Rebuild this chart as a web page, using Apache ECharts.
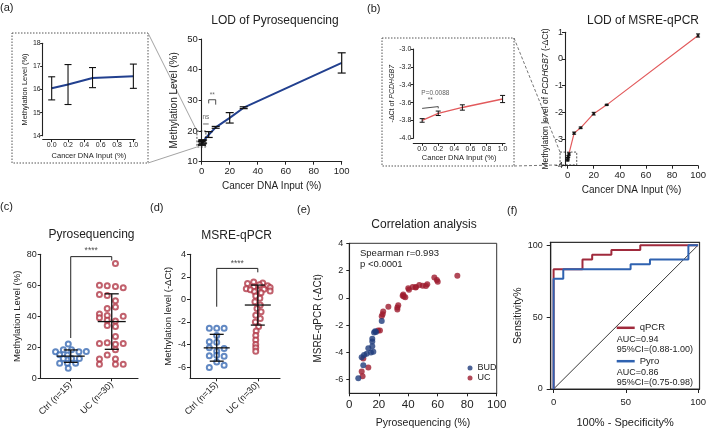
<!DOCTYPE html>
<html>
<head>
<meta charset="utf-8">
<script src="https://cdn.jsdelivr.net/npm/echarts@6/dist/echarts.min.js"></script>
<style>
html,body{margin:0;padding:0;background:#fff;}
#fig{width:709px;height:432px;}
</style>
</head>
<body>
<div id="fig"></div>
<script>
// ---------- (a)/(b) limit of detection ----------
var lodX = [0, 0.2, 0.5, 1, 5, 10, 20, 30, 100];
var pyroMean = [16.05, 16.22, 16.5, 16.57, 18.8, 21.2, 24.3, 27.6, 42.2];
var pyroLow  = [15.55, 15.35, 16.08, 16.05, 17.9, 20.9, 22.6, 27.3, 38.9];
var pyroHigh = [16.55, 17.08, 16.95, 17.1, 19.8, 21.5, 26.0, 27.9, 45.5];
var qpcrMean = [-3.80, -3.72, -3.655, -3.56, -2.78, -2.58, -2.05, -1.72, 0.88];
var qpcrLow  = [-3.82, -3.745, -3.685, -3.60, -2.82, -2.61, -2.10, -1.74, 0.82];
var qpcrHigh = [-3.78, -3.695, -3.625, -3.52, -2.74, -2.55, -2.00, -1.70, 0.94];
var insetN = 4; // inputs <= 1% shown in the insets
var insetTicks = [0, 0.2, 0.4, 0.6, 0.8, 1.0];

// significance marks
var aNsX = [1, 5], aNsY = [22.3, 22.3];
var aStarX = [5, 5, 10, 10], aStarY = [29, 30.2, 30.2, 28.6];
var bStarX = [0, 0, 0.2, 0.2], bStarY = [-3.665, -3.645, -3.645, -3.665];

// ---------- (c) pyrosequencing groups ----------
var groups = ['Ctrl (n=15)', 'UC (n=30)'];
var pyroCtrl = [22.2, 18.5, 18.5, 17.2, 17.2, 17.3, 15.2, 15.0, 12.8, 12.8, 12.8, 9.7, 9.7, 9.7, 6.5];
var pyroCtrlJit = [-0.06, -0.18, 0.02, -0.37, 0.2, 0.38, -0.27, -0.08, -0.18, 0.02, 0.21, -0.27, -0.08, 0.12, -0.06];
var pyroUc = [74, 60, 59.7, 59.3, 58.5, 54, 53.5, 50, 46, 45, 41.5, 39, 40.5, 37.5, 37, 40, 34, 33.5, 27, 22.5, 23, 22, 22.5, 18.5, 15, 12.5, 12.5, 9, 9, 9];
var pyroUcJit = [0.09, -0.3, -0.11, 0.09, 0.28, -0.3, -0.11, 0.09, 0.09, -0.11, -0.3, -0.3, -0.11, -0.11, 0.09, 0.28, -0.11, 0.09, 0.09, -0.3, -0.11, 0.09, 0.28, 0.09, -0.11, -0.3, 0.09, -0.3, 0.09, 0.28];
var pyroGrpMean = [14.3, 36.6], pyroGrpLow = [10.3, 18.7], pyroGrpHigh = [18.3, 54.5];
var pyroSigX = [1, 1, 2, 2], pyroSigY = [26, 78.5, 78.5, 76];

// ---------- (d) MSRE-qPCR groups ----------
var msreCtrl = [-2.55, -2.55, -2.55, -3.2, -3.8, -3.75, -4.3, -4.35, -4.6, -5.0, -4.95, -5.05, -6.05, -5.55, -5.85];
var msreCtrlJit = [-0.18, 0, 0.18, 0, 0, -0.18, -0.18, 0.18, 0, -0.18, 0, 0.18, -0.18, 0, 0.18];
var msreUc = [1.55, 1.45, 1.4, 1.3, 1.2, 1.1, 1.05, 0.95, 0.9, 0.85, 0.8, 0.75, 0.7, 0.6, 0.3, 0.1, -0.2, -0.5, -0.8, -1.1, -1.4, -1.7, -2.0, -2.4, -2.8, -3.2, -3.6, -4.0, -4.3, -4.6];
var msreUcJit = [-0.1, 0.12, -0.25, 0.04, 0.24, -0.1, 0.3, -0.28, 0.15, -0.18, 0, 0.3, -0.08, 0.08, -0.05, 0.05, -0.07, 0.06, -0.02, 0.08, -0.05, 0.06, -0.06, 0.02, -0.04, -0.05, -0.05, -0.05, -0.05, -0.05];
var msreGrpMean = [-4.3, -0.5], msreGrpLow = [-5.48, -2.28], msreGrpHigh = [-3.1, 1.27];
var msreSigX = [1, 1, 2, 2], msreSigY = [-0.65, 2.75, 2.75, 2.4];
var deltaTicks = [-6, -4, -2, 0, 2, 4];

// ---------- (e) correlation ----------
var budPyro = [22, 18.1, 16.8, 17.5, 15.6, 15.6, 15.6, 12.9, 14.7, 16.3, 11.8, 10, 8.4, 9.5, 6.1];
var budMsre = [-1.7, -2.5, -2.55, -2.45, -3.0, -3.2, -3.55, -3.7, -4.0, -3.95, -4.1, -4.2, -4.35, -4.95, -5.9];
var ucPyro = [73.3, 57.7, 59.4, 60, 52.9, 52, 49.8, 47.5, 45.2, 43, 40, 40.5, 36.6, 36.2, 38, 33.2, 32.6, 32.6, 26.5, 23, 22.6, 22, 20.8, 19.5, 9.5, 12.9, 8.4, 9, 37, 45];
var ucMsre = [1.62, 1.5, 1.3, 1.18, 1.0, 0.86, 0.88, 0.95, 0.8, 0.8, 0.7, 0.6, 0.25, 0.15, 0.05, -0.55, -0.7, -0.85, -0.65, -1.0, -1.2, -1.35, -2.4, -2.4, -4.45, -5.1, -5.4, -5.75, 0.1, 0.75];

// ---------- (f) ROC ----------
var qpcrFpr = [0, 0, 20, 20, 26.7, 26.7, 40, 40, 60, 60, 100];
var qpcrTpr = [0, 83.3, 83.3, 90, 90, 93.3, 93.3, 96.7, 96.7, 100, 100];
var pyroFpr = [0, 0, 6.7, 6.7, 53.3, 53.3, 66.7, 66.7, 93.3, 93.3, 100];
var pyroTpr = [0, 76.7, 76.7, 83.3, 83.3, 86.7, 86.7, 90, 90, 100, 100];
var rocTicks = [0, 50, 100];
var aucText = ['AUC=0.94\n95%CI=(0.88-1.00)', 'AUC=0.86\n95%CI=(0.75-0.98)'];

var FONT = '"Liberation Sans", Arial, sans-serif';
var INK = '#222';
var NAVY = '#22408f', SALMON = '#e25a5c';
var BLUE = '#3b6cb4', RED = '#b23a48';
var DBLUE = '#1f3c7c', DRED = '#9e1c2e';
var ROCRED = '#a02a3c', ROCBLUE = '#2f62b0';

function pairs(xs, ys) {
	return xs.map(function (x, i) { return [x, ys[i]]; });
}
function jitter(center, jit, vals) {
	return vals.map(function (v, i) { return [center + jit[i], v]; });
}

function axis(g, o) {
	var a = {
		gridIndex: g, type: 'value', nameLocation: 'middle',
		axisLine: { show: true, onZero: false, lineStyle: { color: INK, width: 1.1 } },
		axisTick: { show: true, length: 3, lineStyle: { color: INK, width: 1 } },
		axisLabel: { color: INK, fontSize: 9, fontFamily: FONT, margin: 4 },
		splitLine: { show: false },
		nameTextStyle: { color: INK, fontSize: 10, fontFamily: FONT }
	};
	Object.keys(o).forEach(function (k) {
		if (o[k] && typeof o[k] === 'object' && !Array.isArray(o[k]) && a[k]) a[k] = Object.assign({}, a[k], o[k]);
		else a[k] = o[k];
	});
	return a;
}

// vertical error bar with caps, data [x, low, high]
function errBar(cap, w) {
	return function (params, api) {
		var x = api.value(0);
		var lo = api.coord([x, api.value(1)]);
		var hi = api.coord([x, api.value(2)]);
		var st = { stroke: '#111', lineWidth: w };
		return {
			type: 'group', children: [
				{ type: 'line', shape: { x1: lo[0], y1: lo[1], x2: hi[0], y2: hi[1] }, style: st },
				{ type: 'line', shape: { x1: hi[0] - cap, y1: hi[1], x2: hi[0] + cap, y2: hi[1] }, style: st },
				{ type: 'line', shape: { x1: lo[0] - cap, y1: lo[1], x2: lo[0] + cap, y2: lo[1] }, style: st }
			]
		};
	};
}
// mean line + SD bar, data [x, mean, low, high]
function meanSd(half, cap) {
	return function (params, api) {
		var x = api.value(0);
		var m = api.coord([x, api.value(1)]);
		var lo = api.coord([x, api.value(2)]);
		var hi = api.coord([x, api.value(3)]);
		var st = { stroke: '#111', lineWidth: 1.3 };
		return {
			type: 'group', children: [
				{ type: 'line', shape: { x1: m[0] - half, y1: m[1], x2: m[0] + half, y2: m[1] }, style: st },
				{ type: 'line', shape: { x1: lo[0], y1: lo[1], x2: hi[0], y2: hi[1] }, style: st },
				{ type: 'line', shape: { x1: hi[0] - cap, y1: hi[1], x2: hi[0] + cap, y2: hi[1] }, style: st },
				{ type: 'line', shape: { x1: lo[0] - cap, y1: lo[1], x2: lo[0] + cap, y2: lo[1] }, style: st }
			]
		};
	};
}
function errData(xs, lo, hi, n) {
	return xs.slice(0, n).map(function (x, i) { return [x, lo[i], hi[i]]; });
}
function grpData(mean, lo, hi) {
	return mean.map(function (m, i) { return [i + 1, m, lo[i], hi[i]]; });
}
function thinLine(idx, xs, ys, color, w) {
	return {
		type: 'line', xAxisIndex: idx, yAxisIndex: idx, data: pairs(xs, ys), symbol: 'none', clip: false,
		lineStyle: { color: color || INK, width: w || 0.9 }, silent: true, animation: false
	};
}
function notes(idx, list, size, color) {
	return {
		type: 'scatter', xAxisIndex: idx, yAxisIndex: idx, symbolSize: 1, silent: true, clip: false,
		itemStyle: { color: 'rgba(0,0,0,0)' },
		label: { show: true, position: 'inside', fontSize: size, color: color || INK, fontFamily: FONT,
			formatter: function (p) { return p.value[2]; } },
		data: list
	};
}
function fmt1(v) { return v.toFixed(1); }

var chart = echarts.init(document.getElementById('fig'));

var option = {
	animation: false,
	backgroundColor: '#fff',
	textStyle: { fontFamily: FONT },
	grid: [
		{ left: 42.7, top: 43.3, width: 92.3, height: 92.4 },   // a inset
		{ left: 201.7, top: 39, width: 140, height: 122.7 },    // a
		{ left: 413.3, top: 49, width: 91.7, height: 89.3 },    // b inset
		{ left: 565, top: 32.3, width: 136, height: 133.4 },    // b
		{ left: 40.7, top: 254.3, width: 97.3, height: 124 },   // c
		{ left: 190, top: 254.3, width: 90, height: 124 },      // d
		{ left: 349.3, top: 243.3, width: 147.4, height: 150, show: true, borderColor: '#333', borderWidth: 1 }, // e
		{ left: 550.7, top: 242.3, width: 149.3, height: 146.7, show: true, borderColor: '#333', borderWidth: 1.2 } // f
	],
	xAxis: [
		axis(0, { min: -0.11, max: 1.02, offset: 4,
			axisLabel: { fontSize: 7, margin: 2, customValues: insetTicks, formatter: fmt1 },
			axisTick: { customValues: insetTicks, length: 2.5 },
			name: 'Cancer DNA Input (%)', nameGap: 12, nameTextStyle: { fontSize: 7.5 } }),
		axis(1, { min: 0, max: 100, interval: 20, axisLabel: { fontSize: 9.5, margin: 5 },
			name: 'Cancer DNA Input (%)', nameGap: 20 }),
		axis(2, { min: -0.11, max: 1.03, offset: 5,
			axisLabel: { fontSize: 7, margin: 2, customValues: insetTicks, formatter: fmt1 },
			axisTick: { customValues: insetTicks, length: 2.5 },
			name: 'Cancer DNA Input (%)', nameGap: 11, nameTextStyle: { fontSize: 7.5 } }),
		axis(3, { min: -2, max: 100,
			axisLabel: { fontSize: 9.5, margin: 5, customValues: [0, 20, 40, 60, 80, 100] },
			axisTick: { customValues: [0, 20, 40, 60, 80, 100] },
			name: 'Cancer DNA Input (%)', nameGap: 20 }),
		axis(4, { min: 0.268, max: 2.64,
			axisLabel: { customValues: [1, 2], rotate: 45, margin: 5, formatter: function (v) { return groups[Math.round(v) - 1]; } },
			axisTick: { customValues: [1, 2] } }),
		axis(5, { min: 0.35, max: 2.54,
			axisLabel: { customValues: [1, 2], rotate: 45, margin: 5, formatter: function (v) { return groups[Math.round(v) - 1]; } },
			axisTick: { customValues: [1, 2] } }),
		axis(6, { min: 0, max: 100, interval: 20, axisLabel: { fontSize: 11.5, margin: 6 },
			name: 'Pyrosequencing (%)', nameGap: 24, nameTextStyle: { fontSize: 10.5 } }),
		axis(7, { min: -2, max: 101, axisLabel: { fontSize: 9.5, margin: 8, customValues: rocTicks },
			axisTick: { customValues: rocTicks, length: 4 },
			name: '100% - Specificity%', nameGap: 28, nameTextStyle: { fontSize: 11 } })
	],
	yAxis: [
		axis(0, { min: 14, max: 18, interval: 1, axisLabel: { fontSize: 7, margin: 2 }, axisTick: { length: 2.5 },
			name: 'Methylation Level (%)', nameGap: 14, nameTextStyle: { fontSize: 7.5 } }),
		axis(1, { min: 10, max: 50, interval: 10, axisLabel: { fontSize: 9.5 },
			name: 'Methylation Level (%)', nameGap: 22 }),
		axis(2, { min: -4, max: -3, interval: 0.2, axisLabel: { fontSize: 7, margin: 2, formatter: fmt1 }, axisTick: { length: 2.5 },
			name: '-ΔCt of {i|PCDHGB7}', nameGap: 14,
			nameTextStyle: { fontSize: 7, rich: { i: { fontStyle: 'italic', fontSize: 7, fontFamily: FONT, color: INK } } } }),
		axis(3, { min: -4, max: 1, interval: 1, axisLabel: { fontSize: 9, margin: 2 },
			name: 'Methylation level of {i|PCDHGB7} (-ΔCt)', nameGap: 15,
			nameTextStyle: { fontSize: 8.5, rich: { i: { fontStyle: 'italic', fontSize: 8.5, fontFamily: FONT, color: INK } } } }),
		axis(4, { min: 0, max: 80, interval: 20, axisLabel: { margin: 4 },
			name: 'Methylation Level (%)', nameGap: 17, nameTextStyle: { fontSize: 9.5 } }),
		axis(5, { min: -7, max: 4, axisLabel: { customValues: deltaTicks, margin: 4 }, axisTick: { customValues: deltaTicks },
			name: 'Methylation level (-ΔCt)', nameGap: 17, nameTextStyle: { fontSize: 9.5 } }),
		axis(6, { min: -7, max: 4, axisLabel: { customValues: deltaTicks, margin: 6 }, axisTick: { customValues: deltaTicks },
			name: 'MSRE-qPCR (-ΔCt)', nameGap: 26, nameTextStyle: { fontSize: 10 } }),
		axis(7, { min: 0, max: 102, axisLabel: { customValues: rocTicks, margin: 8 }, axisTick: { customValues: rocTicks, length: 4 },
			name: 'Sensitivity%', nameGap: 27, nameTextStyle: { fontSize: 10.5 } })
	],
	legend: [
		{ data: ['BUD', 'UC'], left: 467.5, top: 363.5, orient: 'vertical', padding: 0, itemGap: 1,
			itemWidth: 5, itemHeight: 5, icon: 'circle', selectedMode: false,
			textStyle: { fontSize: 9, color: INK, fontFamily: FONT } },
		{ data: ['qPCR'], left: 616.7, top: 322.8, padding: 0, itemWidth: 18, itemHeight: 2.5, icon: 'rect',
			selectedMode: false, textStyle: { fontSize: 9.5, color: INK, fontFamily: FONT } },
		{ data: ['Pyro'], left: 616.7, top: 356.2, padding: 0, itemWidth: 18, itemHeight: 2.5, icon: 'rect',
			selectedMode: false, textStyle: { fontSize: 9.5, color: INK, fontFamily: FONT } }
	],
	series: [
		// (a) inset
		{ type: 'line', xAxisIndex: 0, yAxisIndex: 0, data: pairs(lodX.slice(0, insetN), pyroMean), symbol: 'none',
			lineStyle: { color: NAVY, width: 2 }, z: 2 },
		{ type: 'custom', xAxisIndex: 0, yAxisIndex: 0, renderItem: errBar(3.5, 1.1), data: errData(lodX, pyroLow, pyroHigh, insetN), z: 3 },
		// (a) main
		{ type: 'line', xAxisIndex: 1, yAxisIndex: 1, data: pairs(lodX, pyroMean), symbol: 'none',
			lineStyle: { color: NAVY, width: 2 }, z: 2 },
		{ type: 'custom', xAxisIndex: 1, yAxisIndex: 1, renderItem: errBar(4, 1.2), data: errData(lodX, pyroLow, pyroHigh, lodX.length), z: 3 },
		thinLine(1, aNsX, aNsY, '#444', 0.8),
		thinLine(1, aStarX, aStarY, INK, 0.8),
		notes(1, [[3, 24.4, 'ns'], [7.5, 31.8, '**']], 6.5, '#444'),
		// (b) inset
		{ type: 'line', xAxisIndex: 2, yAxisIndex: 2, data: pairs(lodX.slice(0, insetN), qpcrMean), symbol: 'none',
			lineStyle: { color: SALMON, width: 1.3 }, z: 2 },
		{ type: 'custom', xAxisIndex: 2, yAxisIndex: 2, renderItem: errBar(2.5, 1), data: errData(lodX, qpcrLow, qpcrHigh, insetN), z: 3 },
		thinLine(2, bStarX, bStarY, INK, 0.8),
		notes(2, [[0.1, -3.575, '**'], { value: [-0.01, -3.5, 'P=0.0088'], label: { align: 'left' } }], 6.5, '#333'),
		// (b) main
		{ type: 'line', xAxisIndex: 3, yAxisIndex: 3, data: pairs(lodX, qpcrMean), symbol: 'rect', symbolSize: 2.5,
			itemStyle: { color: '#222' }, lineStyle: { color: SALMON, width: 1.2 }, z: 2 },
		{ type: 'custom', xAxisIndex: 3, yAxisIndex: 3, renderItem: errBar(2, 1), data: errData(lodX, qpcrLow, qpcrHigh, lodX.length), z: 3 },
		// (c)
		{ type: 'scatter', name: 'pyroCtrl', xAxisIndex: 4, yAxisIndex: 4, data: jitter(1, pyroCtrlJit, pyroCtrl),
			symbol: 'emptyCircle', symbolSize: 5, itemStyle: { color: BLUE, borderWidth: 1.2 } },
		{ type: 'scatter', name: 'pyroUc', xAxisIndex: 4, yAxisIndex: 4, data: jitter(2, pyroUcJit, pyroUc),
			symbol: 'emptyCircle', symbolSize: 5, itemStyle: { color: RED, borderWidth: 1.2 } },
		{ type: 'custom', xAxisIndex: 4, yAxisIndex: 4, renderItem: meanSd(14, 7), data: grpData(pyroGrpMean, pyroGrpLow, pyroGrpHigh), z: 4 },
		thinLine(4, pyroSigX, pyroSigY, INK, 1),
		notes(4, [[1.5, 82.5, '****']], 8.5),
		// (d)
		{ type: 'scatter', name: 'msreCtrl', xAxisIndex: 5, yAxisIndex: 5, data: jitter(1, msreCtrlJit, msreCtrl),
			symbol: 'emptyCircle', symbolSize: 5, itemStyle: { color: BLUE, borderWidth: 1.2 } },
		{ type: 'scatter', name: 'msreUc', xAxisIndex: 5, yAxisIndex: 5, data: jitter(2, msreUcJit, msreUc),
			symbol: 'emptyCircle', symbolSize: 5, itemStyle: { color: RED, borderWidth: 1.2 } },
		{ type: 'custom', xAxisIndex: 5, yAxisIndex: 5, renderItem: meanSd(13, 7), data: grpData(msreGrpMean, msreGrpLow, msreGrpHigh), z: 4 },
		thinLine(5, msreSigX, msreSigY, INK, 1),
		notes(5, [[1.5, 3.15, '****']], 8.5),
		// (e)
		{ type: 'scatter', name: 'UC', xAxisIndex: 6, yAxisIndex: 6, data: pairs(ucPyro, ucMsre),
			symbolSize: 6, itemStyle: { color: DRED } },
		{ type: 'scatter', name: 'BUD', xAxisIndex: 6, yAxisIndex: 6, data: pairs(budPyro, budMsre),
			symbolSize: 6, itemStyle: { color: DBLUE } },
		// (f)
		thinLine(7, [0, 100], [0, 100], '#222', 0.9),
		{ type: 'line', name: 'qPCR', xAxisIndex: 7, yAxisIndex: 7, data: pairs(qpcrFpr, qpcrTpr), symbol: 'none',
			itemStyle: { color: ROCRED }, lineStyle: { color: ROCRED, width: 2 } },
		{ type: 'line', name: 'Pyro', xAxisIndex: 7, yAxisIndex: 7, data: pairs(pyroFpr, pyroTpr), symbol: 'none',
			itemStyle: { color: ROCBLUE }, lineStyle: { color: ROCBLUE, width: 2 } }
	]
};
chart.setOption(option);

// ---------- free text, inset frames and zoom lines ----------
function txt(s, x, y, size, align) {
	return { type: 'text', x: x, y: y, silent: true,
		style: { text: s, fill: INK, font: size + 'px ' + FONT, align: align || 'left', verticalAlign: 'middle', lineHeight: size + 1 } };
}
function seg(p, q, dash, color) {
	return { type: 'line', silent: true, shape: { x1: p[0], y1: p[1], x2: q[0], y2: q[1] },
		style: { stroke: color, lineWidth: 0.9, lineDash: dash } };
}
function frame(x1, y1, x2, y2, dash) {
	return { type: 'rect', silent: true, shape: { x: x1, y: y1, width: x2 - x1, height: y2 - y1 },
		style: { fill: 'none', stroke: '#555', lineWidth: 1, lineDash: dash } };
}
function px(i, pt) { return chart.convertToPixel({ xAxisIndex: i, yAxisIndex: i }, pt); }

var aBoxTL = px(1, [-3.4, 20]), aBoxBR = px(1, [3, 14.8]);
var bBoxTL = px(3, [-5.8, -3.49]), bBoxBR = px(3, [7, -3.97]);
var dots = [1.5, 1.5];

var graphics = [
	txt('(a)', 0, 8, 11), txt('(b)', 367, 9, 11), txt('(c)', 0, 207, 11),
	txt('(d)', 150, 208, 11), txt('(e)', 297, 210, 11), txt('(f)', 507, 211, 11),
	txt('LOD of Pyrosequencing', 275, 21, 12, 'center'),
	txt('LOD of MSRE-qPCR', 643, 21, 12, 'center'),
	txt('Pyrosequencing', 91.5, 235, 12, 'center'),
	txt('MSRE-qPCR', 236.7, 236, 12, 'center'),
	txt('Correlation analysis', 424, 225, 12, 'center'),
	txt('Spearman r=0.993\np <0.0001', 360, 259, 9.5),
	txt(aucText[0], 616.7, 345, 9),
	txt(aucText[1], 616.7, 378, 9),
	frame(12, 33, 148, 163, dots),
	frame(382, 38, 514, 166, dots),
	frame(aBoxTL[0], aBoxTL[1], aBoxBR[0], aBoxBR[1], [2, 1.5]),
	frame(bBoxTL[0], bBoxTL[1], bBoxBR[0], bBoxBR[1], [2, 1.5]),
	seg([148, 33], [aBoxTL[0], aBoxTL[1]], null, '#999'),
	seg([148, 163], [aBoxTL[0], aBoxBR[1]], null, '#999'),
	seg([514, 38], [bBoxTL[0], bBoxTL[1]], [3, 2], '#666'),
	seg([514, 166], [bBoxTL[0], bBoxBR[1]], [3, 2], '#666')
];
chart.setOption({ graphic: graphics });
</script>
</body>
</html>
